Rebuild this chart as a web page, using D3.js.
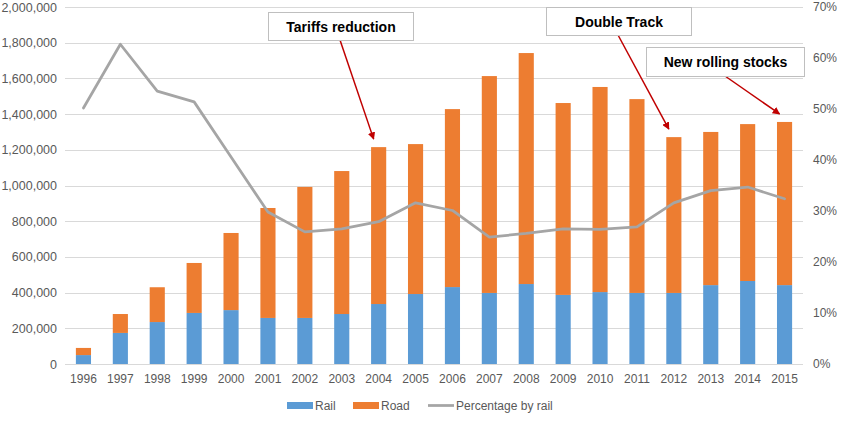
<!DOCTYPE html>
<html>
<head>
<meta charset="utf-8">
<script src="https://cdn.jsdelivr.net/npm/d3@7"></script>
<style>
  body { margin: 0; background: #fff; }
  svg { font-family: "Liberation Sans", Arial, sans-serif; }
</style>
</head>
<body>
<svg id="chart" width="844" height="428"></svg>
<script>
// data
const years = ["1996","1997","1998","1999","2000","2001","2002","2003","2004","2005",
               "2006","2007","2008","2009","2010","2011","2012","2013","2014","2015"];
const rail = [50000, 174000, 235000, 286000, 302000, 258000, 258000, 280000, 336000, 392000,
              431000, 398000, 448000, 387000, 403000, 398000, 398000, 442000, 465000, 442000];
const road = [40000, 106000, 195000, 280000, 432000, 616000, 734000, 801000, 879000, 840000,
              997000, 1215000, 1294000, 1075000, 1149000, 1086000, 873000, 858000, 879000, 914000];
const pctRail = [0.502, 0.627, 0.535, 0.514, 0.406, 0.298, 0.259, 0.265, 0.279, 0.316,
                 0.301, 0.249, 0.256, 0.265, 0.264, 0.269, 0.316, 0.34, 0.347, 0.324];
const leftTicks = d3.range(0, 2000001, 200000);
const rightTicks = d3.range(0, 0.71, 0.1);
const notes = [
  {text: "Tariffs reduction", year: "2004"},
  {text: "Double Track", year: "2012"},
  {text: "New rolling stocks", year: "2015"}
];

const svg = d3.select("#chart");
const plotLeft = 65, plotRight = 803, plotTop = 7, plotBottom = 364;

const x = d3.scaleBand().domain(years).range([plotLeft, plotRight]).paddingInner(0.59).paddingOuter(0.295);
const y = d3.scaleLinear().domain([0, 2000000]).range([plotBottom, plotTop]);
const y2 = d3.scaleLinear().domain([0, 0.7]).range([plotBottom, plotTop]);

const colRail = "#5b9bd5", colRoad = "#ed7d31", colPct = "#a5a5a5", grey = "#595959";

// gridlines
svg.append("g")
  .selectAll("line")
  .data(leftTicks)
  .join("line")
  .attr("x1", plotLeft).attr("x2", plotRight)
  .attr("y1", d => Math.round(y(d)) + 0.5).attr("y2", d => Math.round(y(d)) + 0.5)
  .attr("stroke", "#d9d9d9").attr("stroke-width", 1);

// left axis
const yAxis = svg.append("g")
  .attr("transform", `translate(${plotLeft - 8},0)`)
  .call(d3.axisLeft(y).tickValues(leftTicks).tickFormat(d3.format(",")).tickSize(0).tickPadding(0));
yAxis.select(".domain").remove();
yAxis.selectAll("text").attr("fill", grey).attr("font-size", 12.5).attr("font-family", "Liberation Sans, Arial");

// right axis
const y2Axis = svg.append("g")
  .attr("transform", `translate(${plotRight + 10},0)`)
  .call(d3.axisRight(y2).tickValues(rightTicks).tickFormat(d3.format(".0%")).tickSize(0).tickPadding(0));
y2Axis.select(".domain").remove();
y2Axis.selectAll("text").attr("fill", grey).attr("font-size", 12).attr("font-family", "Liberation Sans, Arial");

// x axis
const xAxis = svg.append("g")
  .attr("transform", `translate(0,${plotBottom + 10})`)
  .call(d3.axisBottom(x).tickSize(0).tickPadding(0));
xAxis.select(".domain").remove();
xAxis.selectAll("text").attr("fill", grey).attr("font-size", 12).attr("font-family", "Liberation Sans, Arial");

// stacked bars
const table = years.map((yr, i) => ({year: yr, rail: rail[i], road: road[i]}));
const stack = d3.stack().keys(["rail", "road"])(table);
const colors = {rail: colRail, road: colRoad};

svg.append("g")
  .selectAll("g")
  .data(stack)
  .join("g")
  .attr("fill", d => colors[d.key])
  .selectAll("rect")
  .data(d => d)
  .join("rect")
  .attr("x", d => x(d.data.year))
  .attr("width", x.bandwidth())
  .attr("y", d => y(d[1]))
  .attr("height", d => y(d[0]) - y(d[1]));

// percentage line (straight segments)
const line = d3.line()
  .x((d, i) => x(years[i]) + x.bandwidth() / 2)
  .y(d => y2(d));

svg.append("path")
  .datum(pctRail)
  .attr("d", line)
  .attr("fill", "none")
  .attr("stroke", colPct)
  .attr("stroke-width", 2.75)
  .attr("stroke-linejoin", "round")
  .attr("stroke-linecap", "round");

// legend
const legend = svg.append("g").attr("font-size", 12).attr("fill", grey);
const legendItems = [
  {label: "Rail", color: colRail, type: "rect", x: 287},
  {label: "Road", color: colRoad, type: "rect", x: 353},
  {label: "Percentage by rail", color: colPct, type: "line", x: 428}
];
legendItems.forEach(it => {
  if (it.type == "rect") {
    legend.append("rect").attr("x", it.x).attr("y", 402).attr("width", 26).attr("height", 7).attr("fill", it.color);
  } else {
    legend.append("line").attr("x1", it.x).attr("x2", it.x + 26).attr("y1", 405.5).attr("y2", 405.5)
      .attr("stroke", it.color).attr("stroke-width", 2.75);
  }
  legend.append("text").attr("x", it.x + 28).attr("y", 410).attr("fill", grey).text(it.label);
});

// annotations
const defs = svg.append("defs");
defs.append("marker")
  .attr("id", "arrow")
  .attr("viewBox", "0 0 10 10")
  .attr("refX", 9).attr("refY", 5)
  .attr("markerWidth", 5).attr("markerHeight", 5)
  .attr("orient", "auto")
  .append("path")
  .attr("d", "M0,0 L10,5 L0,10 z")
  .attr("fill", "#c00000");

const boxes = [
  {x: 268, y: 12, w: 145, h: 28, from: [340, 40]},
  {x: 546, y: 7, w: 145, h: 28, from: [618, 35]},
  {x: 646, y: 47, w: 158, h: 29, from: [725, 76]}
];

notes.forEach((n, i) => {
  const b = boxes[i];
  const idx = years.indexOf(n.year);
  const tipX = x(n.year) + x.bandwidth() / 2 - 5;
  const tipY = y(rail[idx] + road[idx]) - 8;
  svg.append("line")
    .attr("x1", b.from[0]).attr("y1", b.from[1])
    .attr("x2", tipX).attr("y2", tipY)
    .attr("stroke", "#c00000").attr("stroke-width", 1.5)
    .attr("marker-end", "url(#arrow)");
  svg.append("rect")
    .attr("x", b.x + 0.5).attr("y", b.y + 0.5).attr("width", b.w).attr("height", b.h)
    .attr("fill", "#fff").attr("stroke", "#bfbfbf");
  svg.append("text")
    .attr("x", b.x + b.w / 2 + 0.5).attr("y", b.y + b.h / 2 + 5.5)
    .attr("text-anchor", "middle")
    .attr("font-size", 14).attr("font-weight", "bold").attr("fill", "#000")
    .text(n.text);
});
</script>
</body>
</html>
